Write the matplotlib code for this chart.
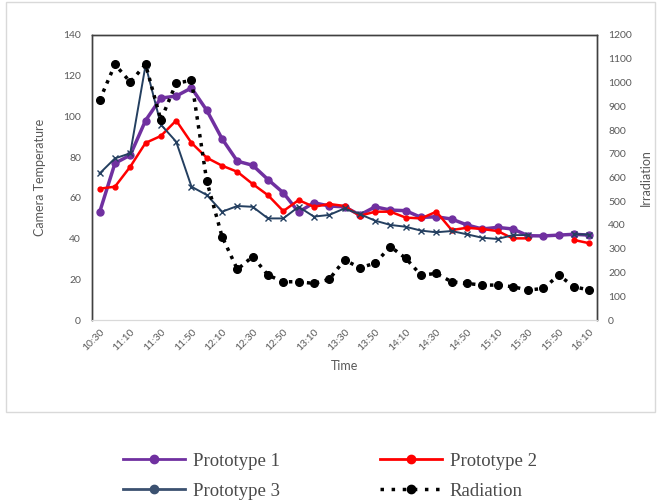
import numpy as np
import matplotlib
matplotlib.use("Agg")
import matplotlib.pyplot as plt
from matplotlib.patches import Rectangle
from matplotlib.lines import Line2D

times = ["10:30", "11:00"] + [f"{h}:{m:02d}" for h in range(11, 17) for m in range(0, 60, 10)
                              if (h, m) >= (11, 10) and (h, m) <= (16, 10)]

nan = np.nan
proto1 = [53, 77, 81, 98, 109, 110, 114, 103, 89, 78, 76, 69, 62.5, 53, 57.6, 56, 55.6, 51.6,
          55.6, 54, 53.7, 50.4, 50.7, 49.6, 46.7, 44.7, 45.5, 44.7, 41.4, 41.3, 41.7, 42.1, 41.7]
proto2 = [64.5, 65.5, 75.3, 87, 90.4, 98, 87, 79.7, 75.8, 72.8, 66.8, 61.3, 53.5, 58.9, 55.6, 57,
          56, 51.2, 53.2, 53.2, 50.3, 49.9, 53.2, 44.2, 45.3, 44.7, 43.7, 40.1, 40.1, nan, nan, 39.3, 37.7]
proto3 = [72, 79.4, 81.9, 125.2, 96, 87.6, 65.5, 61.4, 53.2, 56, 55.6, 49.9, 49.9, 55.6, 50.8, 51.6,
          54.8, 52, 48.8, 46.7, 45.8, 43.9, 43.1, 43.7, 42.1, 40.4, 39.8, 41.7, 41.7, nan, nan, 42.2, 41.9]
radiation = [926, 1076, 1002, 1076, 842, 997, 1009, 585, 351, 213, 267, 189, 161, 161, 154, 171,
             253, 220, 239, 309, 260, 189, 196, 161, 154, 147, 147, 140, 126, 133, 189, 140, 126]

left_ticks = list(range(0, 141, 20))
right_ticks = list(range(0, 1201, 100))

plt.rcParams['font.family'] = ['Lato', 'DejaVu Sans']
gray = '#595959'

fig = plt.figure(figsize=(6.57, 5.04), dpi=100)
fig.patches.append(Rectangle((6 / 657, 1 - 412 / 504), 649 / 657, 410 / 504,
                             transform=fig.transFigure, fill=False, edgecolor='#d9d9d9', lw=1))

ax = fig.add_axes([92 / 657, 1 - 320 / 504, 505 / 657, 285 / 504])
x = np.arange(len(times))

ax.plot(x, proto1, color='#7030A0', lw=2.5, marker='o', ms=5, zorder=3)
ax.plot(x, proto2, color='#FF0000', lw=1.8, marker='o', ms=3.5, zorder=4)
ax.plot(x, proto3, color='#243F60', lw=1.4, marker='x', ms=4, mew=1, zorder=5)

ax2 = ax.twinx()
ax2.plot(x, radiation, color='black', lw=2.5, ls=(0, (1, 1.6)), marker='o', ms=5.5)

ax.set_xlim(-0.5, len(times) - 0.5)
ax.set_ylim(0, 140)
ax2.set_ylim(0, 1200)
ax.set_yticks(left_ticks)
ax2.set_yticks(right_ticks)
ax.set_xticks(x[::2])
ax.set_xticklabels(times[::2], rotation=45, ha='right', rotation_mode='anchor')

for a in (ax, ax2):
    a.tick_params(length=0, labelsize=7.5, colors=gray, pad=8)
    for s in ('left', 'right', 'top'):
        a.spines[s].set_color('#404040')
        a.spines[s].set_linewidth(1)
    a.spines['bottom'].set_color('#d9d9d9')
ax.tick_params(axis='x', pad=5)

ax.set_ylabel('Camera Temperature', color=gray, fontsize=9, labelpad=12)
ax2.set_ylabel('Irradiation', color=gray, fontsize=9, labelpad=6)
ax.set_xlabel('Time', color=gray, fontsize=9, labelpad=6)

h1 = Line2D([], [], color='#7030A0', lw=2, marker='o', ms=6)
h2 = Line2D([], [], color='#FF0000', lw=2, marker='o', ms=6)
h3 = Line2D([], [], color='#3B5170', lw=2, marker='o', ms=6)
h4 = Line2D([], [], color='black', lw=2.5, ls=(0, (1, 2.2)), marker='o', ms=6)

leg = fig.legend([h1, h3, h2, h4], ['Prototype 1', 'Prototype 3', 'Prototype 2', 'Radiation'],
                 ncol=2, loc='center', bbox_to_anchor=(330 / 657, 1 - 476 / 504),
                 frameon=False, prop={'family': 'Liberation Serif', 'size': 13.5},
                 handlelength=3.3, columnspacing=5.3, labelspacing=0.68, handletextpad=0.43,
                 borderpad=0)
for t in leg.get_texts():
    t.set_color('#4a4a4a')

fig.savefig('out.png', dpi=100)
